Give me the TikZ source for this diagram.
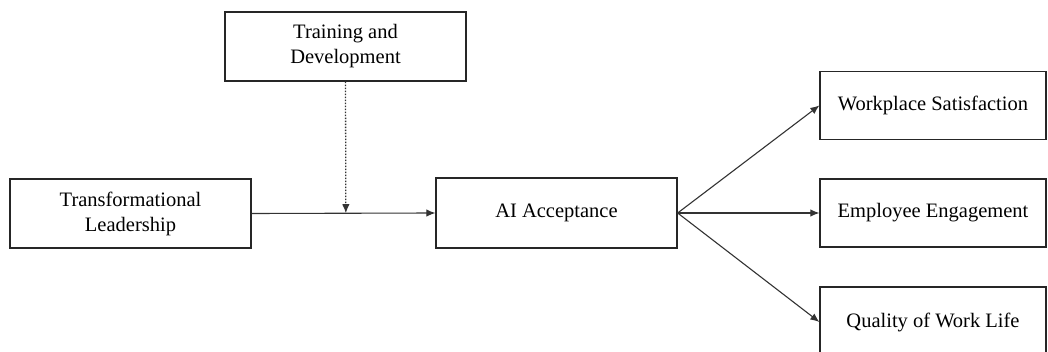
\documentclass[tikz,border=0pt]{standalone}
\usepackage{fontspec}
\setmainfont{Liberation Serif}
\usetikzlibrary{arrows.meta,calc}
\begin{document}
\begin{tikzpicture}[x=1pt,y=-1pt,
  box/.style={draw=black!85,line width=1.3pt,fill=white,align=center,inner sep=2pt,
    font=\fontsize{20.5}{25}\selectfont,text=black},
  lbox/.style={box,minimum width=241pt,minimum height=69pt},
  rbox/.style={box,minimum width=226pt,minimum height=68pt},
  conn/.style={draw=black!80,line width=1.1pt,-{Latex[length=9pt,width=7.5pt]}},
  dotconn/.style={conn,dash pattern=on 1.6pt off 1.4pt,line width=1.3pt}]
\clip (0,0) rectangle (1048,352);
\fill[white] (0,0) rectangle (1048,352);
\node[lbox] (td) at (345.5,46.5) {Training and\\Development};
\node[lbox] (tl) at (130.5,213.5) {Transformational\\Leadership};
\node[lbox,minimum height=70pt] (ai) at (556.5,213) {AI Acceptance};
\node[rbox] (ws) at (933,105.5) {Workplace Satisfaction};
\node[rbox] (ee) at (933,213) {Employee Engagement};
\node[rbox,minimum height=70pt] (qwl) at (933,322) {Quality of Work Life};
\coordinate (m) at ($(tl.east)!(td.south)!(ai.west)$);
\draw[conn] (tl.east) -- (ai.west);
\draw[dotconn] (td.south) -- (m);
\draw[conn] (ai.east) -- (ws.west);
\draw[conn] (ai.east) -- (ee.west);
\draw[conn] (ai.east) -- (qwl.west);
\end{tikzpicture}
\end{document}
